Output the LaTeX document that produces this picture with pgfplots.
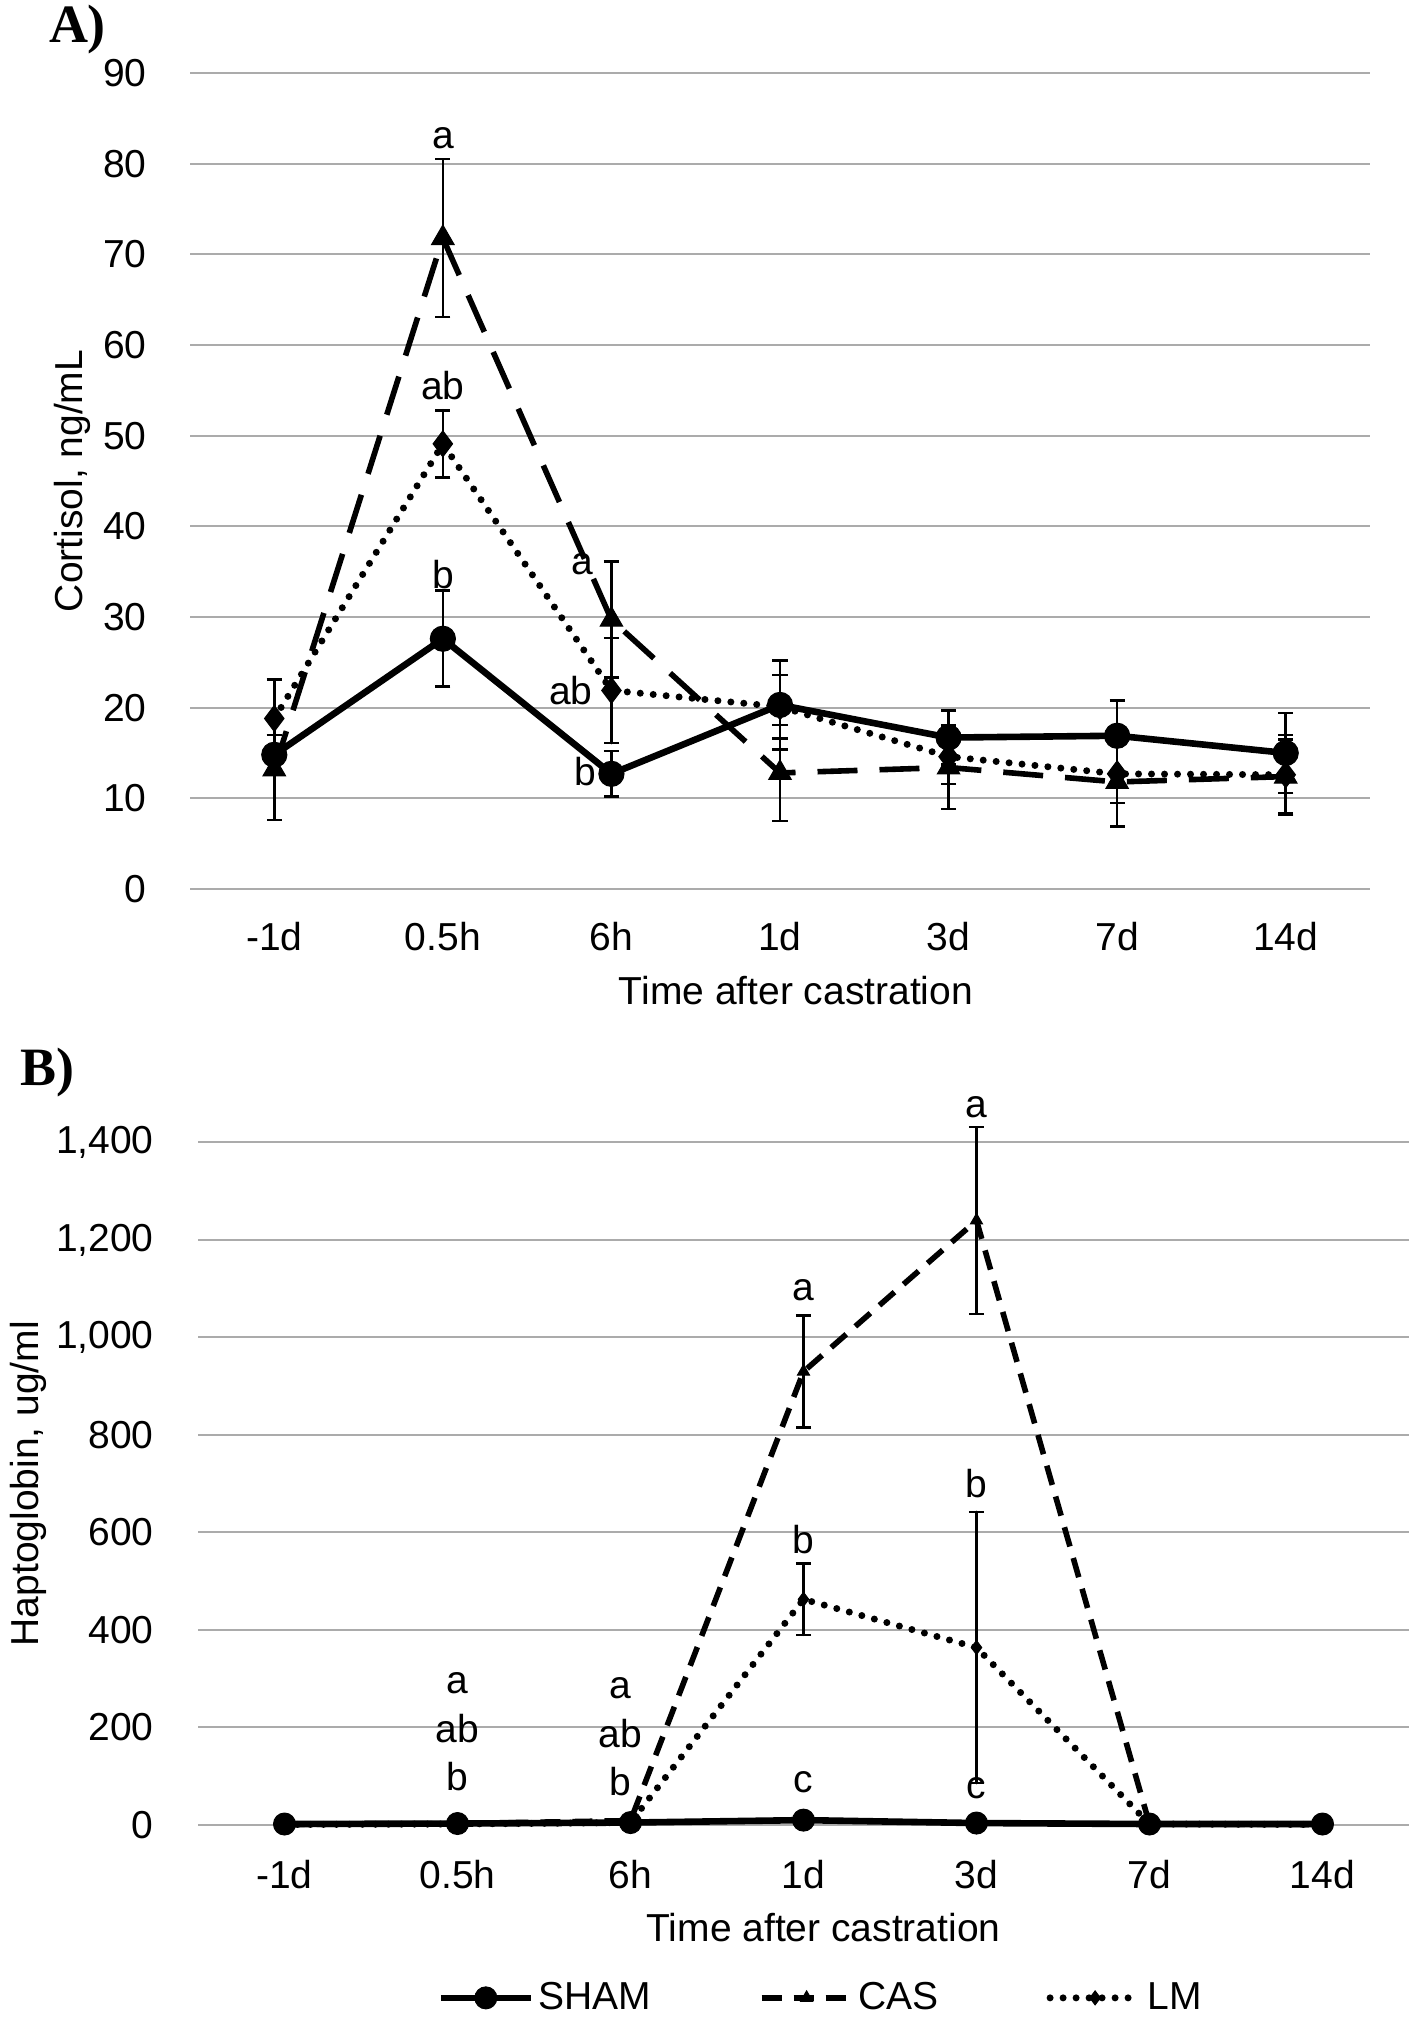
\documentclass[border=0pt]{standalone}
\usepackage{fontspec}
\setmainfont{Liberation Sans}
\newfontfamily\serifb{Liberation Serif}
\usepackage{pgfplots}
\usepackage{pgfplotstable}
\pgfplotsset{compat=1.18}
\newcommand\f{\fontsize{19.5}{23}\selectfont}

\pgfplotstableread{
x y e
0 14.8 2.2
1 27.6 5.3
2 12.7 2.5
3 20.3 4.9
4 16.7 3.0
5 16.9 3.9
6 15.0 4.4
}\shamA
\pgfplotstableread{
x y e
0 13.2 5.6
1 71.8 8.7
2 29.7 6.4
3 12.8 5.3
4 13.4 4.6
5 11.8 4.9
6 12.4 4.1
}\casA
\pgfplotstableread{
x y e
0 18.8 4.3
1 49.1 3.7
2 21.9 5.8
3 20.1 3.5
4 14.6 3.0
5 12.7 3.2
6 12.6 4.4
}\lmA
\pgfplotstableread{
x y e
0 2 0
1 3 0
2 5 0
3 10 0
4 4 0
5 2 0
6 2 0
}\shamB
\pgfplotstableread{
x y e
0 1 0
1 3 0
2 9 0
3 930 115
4 1240 192
5 2 0
6 1 0
}\casB
\pgfplotstableread{
x y e
0 1 0
1 2 0
2 5 0
3 463 73
4 364 278
5 2 0
6 1 0
}\lmB

\pgfplotsset{base/.style={
  scale only axis, xmin=-0.5, xmax=6.5, ymin=0, clip=false,
  xtick={0,...,6}, xticklabels={-1d,0.5h,6h,1d,3d,7d,14d},
  axis line style={draw=none}, major tick length=0pt,
  ymajorgrids, grid style={line width=1pt, color=black!33},
  tick label style={font=\f},
  /pgf/number format/assume math mode=true,
  scaled y ticks=false,
  label style={font=\f},
  xticklabel style={anchor=center, inner sep=0pt},
  yticklabel style={anchor=east, inner sep=0pt},
  xlabel style={at={(axis description cs:0.5,0)}, anchor=center},
  error bars/error bar style={line width=1.3pt, solid},
  error bars/error mark options={line width=1.3pt, solid, mark size=3.8pt, rotate=90},
}}

\begin{document}
\begin{tikzpicture}
\path[use as bounding box] (0,0) rectangle (709pt,1008.5pt);

\node[font=\serifb\bfseries\fontsize{27}{30}\selectfont, inner sep=0pt] at (38.75pt,993.75pt) {A)};
\node[font=\serifb\bfseries\fontsize{27}{30}\selectfont, inner sep=0pt] at (23.75pt,472pt) {B)};

% ---------- Panel A ----------
\begin{axis}[base,
  at={(95pt,564pt)}, anchor=south west,
  width=590pt, height=408pt,
  ymax=90, ytick={0,10,...,90},
  xticklabel style={yshift=-24pt},
  yticklabel style={xshift=-21.5pt},
  xlabel={Time after castration},
  xlabel style={yshift=-51pt, xshift=8pt},
  ylabel={Cortisol, ng/mL},
  ylabel style={at={(axis description cs:-0.1,0.5)}, anchor=center},
]
\addplot[black, line width=3.3pt, mark=*, mark size=6.3pt,
  mark options={solid, line width=0.5pt},
  error bars/.cd, y dir=both, y explicit]
  table[x=x, y=y, y error=e]{\shamA};
\addplot[black, line width=2.8pt, dash pattern=on 20pt off 11pt,
  mark=triangle*, mark size=6.5pt, mark options={solid, line width=0.5pt},
  error bars/.cd, y dir=both, y explicit]
  table[x=x, y=y, y error=e]{\casA};
\addplot[black, line width=3.5pt, dash pattern=on 0pt off 6.5pt, line cap=round,
  mark=diamond*, mark size=6.5pt, mark options={solid, line width=0.5pt},
  error bars/.cd, y dir=both, y explicit]
  table[x=x, y=y, y error=e]{\lmA};
\node[font=\f] at (axis cs:1,82.8) {a};
\node[font=\f] at (axis cs:1,55.5) {ab};
\node[font=\f] at (axis cs:1,34.7) {b};
\node[font=\f] at (axis cs:1.83,35.8) {a};
\node[font=\f] at (axis cs:1.76,21.9) {ab};
\node[font=\f] at (axis cs:1.845,12.9) {b};
\end{axis}

% ---------- Panel B ----------
\begin{axis}[base,
  at={(99pt,96pt)}, anchor=south west,
  width=605.5pt, height=341.25pt,
  ymax=1400, ytick={0,200,...,1400},
  /pgf/number format/1000 sep={,},
  xticklabel style={yshift=-25pt},
  yticklabel style={xshift=-22pt},
  xlabel={Time after castration},
  xlabel style={yshift=-51.5pt, xshift=10pt},
  ylabel={Haptoglobin, ug/ml},
  ylabel style={at={(axis description cs:-0.1404,0.5)}, anchor=center},
  legend columns=3,
  legend style={at={(axis description cs:0.515,-0.2533)}, anchor=center,
    draw=none, fill=none, font=\f,
    /tikz/every even column/.append style={column sep=52pt}},
  legend image code/.code={\draw[mark repeat=2,mark phase=2,#1]
    plot coordinates {(0pt,0pt) (22.5pt,0pt) (45pt,0pt)};},
]
\addplot[black, line width=3.3pt, mark=*, mark size=5.5pt,
  mark options={solid, line width=0.5pt}]
  table[x=x, y=y]{\shamB};
\addlegendentry{SHAM}
\addplot[black, line width=2.8pt, dash pattern=on 10pt off 6pt,
  mark=triangle*, mark size=3.5pt, mark options={solid, line width=0.5pt},
  error bars/.cd, y dir=both, y explicit]
  table[x=x, y=y, y error=e]{\casB};
\addlegendentry{CAS}
\addplot[black, line width=3.5pt, dash pattern=on 0pt off 6.5pt, line cap=round,
  mark=diamond*, mark size=3.5pt, mark options={solid, line width=0.5pt},
  error bars/.cd, y dir=both, y explicit]
  table[x=x, y=y, y error=e]{\lmB};
\addlegendentry{LM}
\node[font=\f] at (axis cs:1,290) {a};
\node[font=\f] at (axis cs:1,197) {ab};
\node[font=\f] at (axis cs:1,100) {b};
\node[font=\f] at (axis cs:1.94,280) {a};
\node[font=\f] at (axis cs:1.94,187) {ab};
\node[font=\f] at (axis cs:1.94,90) {b};
\node[font=\f] at (axis cs:3,1098) {a};
\node[font=\f] at (axis cs:3,586) {b};
\node[font=\f] at (axis cs:3,88) {c};
\node[font=\f] at (axis cs:4,1473) {a};
\node[font=\f] at (axis cs:4,700) {b};
\node[font=\f] at (axis cs:4,75) {c};
\end{axis}
\end{tikzpicture}
\end{document}
